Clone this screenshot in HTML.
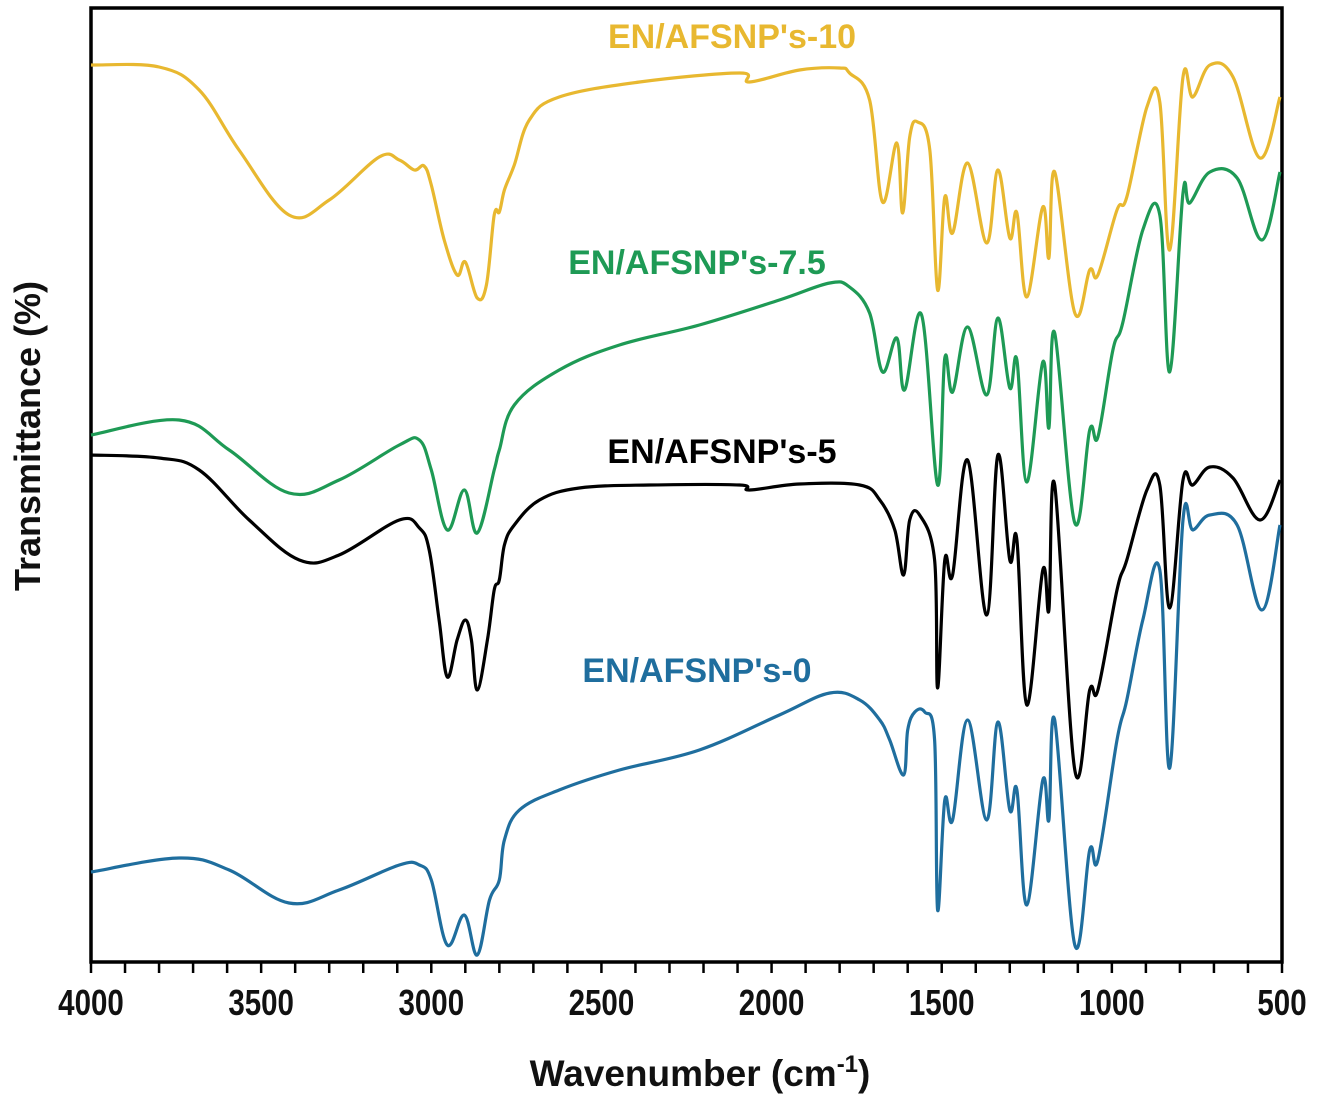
<!DOCTYPE html>
<html><head><meta charset="utf-8"><style>
html,body{margin:0;padding:0;background:#fff;}
svg{display:block;}
text{font-family:"Liberation Sans",sans-serif;}
</style></head><body>
<svg id="chart" width="1317" height="1098" viewBox="0 0 1317 1098" xmlns="http://www.w3.org/2000/svg">
<rect x="91" y="8" width="1191" height="954" fill="none" stroke="#000" stroke-width="3.5"/>
<g id="ticks"></g>
<g id="series"></g>
<text x="732" y="48" text-anchor="middle" font-size="34" font-weight="bold" fill="#E8B830">EN/AFSNP's-10</text>
<text x="697" y="274" text-anchor="middle" font-size="34" font-weight="bold" fill="#1E9A55">EN/AFSNP's-7.5</text>
<text x="722" y="463" text-anchor="middle" font-size="34" font-weight="bold" fill="#000">EN/AFSNP's-5</text>
<text x="697" y="682" text-anchor="middle" font-size="34" font-weight="bold" fill="#1F6E9E">EN/AFSNP's-0</text>
<text x="0" y="0" text-anchor="middle" font-size="36" font-weight="bold" fill="#111" transform="translate(40,436) rotate(-90)">Transmittance (%)</text>
<text x="0" y="0" text-anchor="middle" font-size="37" font-weight="bold" fill="#111" transform="translate(700,1086)">Wavenumber (cm<tspan font-size="24" dy="-14">-1</tspan><tspan dy="14">)</tspan></text>
</svg>
<script>
const xTicks = [4000,3500,3000,2500,2000,1500,1000,500];
const s10W = [4000,3800,3682,3565,3418,3300,3153,3094,3050,3021,3000,2962,2924,2900,2865,2838,2815,2800,2785,2756,2712,2624,2388,2094,2065,1918,1800,1771,1712,1674,1632,1615,1594,1571,1535,1512,1491,1468,1424,1368,1335,1300,1279,1250,1203,1185,1168,1109,1065,1041,985,956,897,859,830,791,762,712,644,565,506];
const s10T = [897,895,872,812,747,762,805,802,792,796,777,722,687,700,664,677,747,750,772,797,842,865,880,889,880,892,894,889,862,760,819,749,825,840,812,672,765,729,799,719,792,724,749,665,755,704,790,649,692,687,752,765,855,860,712,885,865,897,885,804,865];
const s75W = [4000,3741,3594,3418,3271,3094,3035,3000,2953,2903,2865,2815,2800,2756,2624,2447,2212,1977,1829,1771,1712,1674,1632,1609,1559,1512,1491,1468,1424,1368,1335,1300,1279,1250,1203,1185,1168,1109,1065,1041,997,968,909,859,830,791,771,712,632,559,506];
const s75T = [527,542,512,469,482,517,522,492,432,472,429,492,512,557,592,617,637,662,679,675,649,590,624,572,647,477,604,570,635,567,644,574,602,480,600,534,629,439,532,525,612,639,732,747,590,769,759,790,784,722,790];
const s5W = [4000,3800,3682,3535,3388,3271,3094,3035,3006,2977,2953,2924,2900,2882,2865,2835,2815,2800,2785,2756,2682,2565,2359,2094,2065,1918,1741,1682,1638,1612,1594,1565,1521,1512,1491,1468,1424,1368,1335,1300,1279,1250,1203,1185,1168,1109,1065,1041,985,956,897,859,830,791,762,712,644,565,506];
const s5T = [507,504,492,442,402,407,442,434,412,342,285,322,342,322,272,322,372,382,417,437,462,474,477,477,472,478,477,462,432,387,442,447,402,274,402,387,502,347,507,402,422,257,392,352,477,192,272,272,372,402,472,477,354,482,477,495,484,442,482];
const s0W = [4000,3741,3594,3418,3271,3094,3035,3000,2953,2903,2865,2829,2800,2785,2741,2624,2447,2212,1977,1829,1741,1682,1653,1612,1600,1579,1550,1521,1512,1491,1468,1424,1368,1335,1300,1279,1250,1203,1185,1168,1109,1065,1041,985,956,909,859,830,791,762,712,632,559,506];
const s0T = [90,104,92,59,72,97,97,82,17,47,7,62,82,122,152,172,192,212,247,269,262,242,222,187,232,250,250,222,52,162,142,242,142,240,152,172,57,182,142,242,17,112,102,222,262,342,392,194,442,432,447,437,352,437];

const X0 = 91, X1 = 1282, Y0 = 962;
const xScale = w => X0 + (4000 - w) * (X1 - X0) / 3500;
const yScale = t => Y0 - t;
const NS = "http://www.w3.org/2000/svg";

const tg = document.getElementById('ticks');
for (let w = 4000; w >= 500; w -= 100) {
  const l = document.createElementNS(NS, 'line');
  
  
  const x = xScale(w);
  l.setAttribute('x1', x); l.setAttribute('x2', x);
  l.setAttribute('y1', Y0); l.setAttribute('y2', Y0 + 11);
  l.setAttribute('stroke', '#000'); l.setAttribute('stroke-width', '2.5');
  tg.appendChild(l);
}
xTicks.forEach(w => {
  const t = document.createElementNS(NS, 'text');
  
  
  const x = xScale(w);
  t.setAttribute('x', 0); t.setAttribute('y', 0);
  t.setAttribute('transform', `translate(${x},1015) scale(0.82,1)`);
  t.setAttribute('text-anchor', 'middle');
  t.setAttribute('font-size', '36');
  t.setAttribute('font-weight', 'bold');
  t.setAttribute('fill', '#111');
  t.textContent = w;
  tg.appendChild(t);
});

function path(W, T) {
  const p = W.map((w, i) => [xScale(w), yScale(T[i])]);
  let d = `M${p[0][0].toFixed(1)},${p[0][1].toFixed(1)}`;
  for (let i = 0; i < p.length - 1; i++) {
    const a = p[Math.max(0, i - 1)], b = p[i], c = p[i + 1], e = p[Math.min(p.length - 1, i + 2)];
    const k = 0.18;
    const c1 = [b[0] + (c[0] - a[0]) * k, b[1] + (c[1] - a[1]) * k];
    const c2 = [c[0] - (e[0] - b[0]) * k, c[1] - (e[1] - b[1]) * k];
    d += ` C${c1[0].toFixed(1)},${c1[1].toFixed(1)} ${c2[0].toFixed(1)},${c2[1].toFixed(1)} ${c[0].toFixed(1)},${c[1].toFixed(1)}`;
  }
  return d;
}
const sg = document.getElementById('series');
function addSeries(W, T, color, name) {
  const el = document.createElementNS(NS, 'path');
  
  
  el.setAttribute('d', path(W, T));
  el.setAttribute('fill', 'none');
  el.setAttribute('stroke', color);
  el.setAttribute('stroke-width', '3.2');
  el.setAttribute('stroke-linejoin', 'round');
  sg.appendChild(el);
}
addSeries(s10W, s10T, '#E8B830', 'series-en-afsnps-10');
addSeries(s75W, s75T, '#1E9A55', 'series-en-afsnps-7-5');
addSeries(s5W, s5T, '#000000', 'series-en-afsnps-5');
addSeries(s0W, s0T, '#1F6E9E', 'series-en-afsnps-0');
</script>
</body></html>
